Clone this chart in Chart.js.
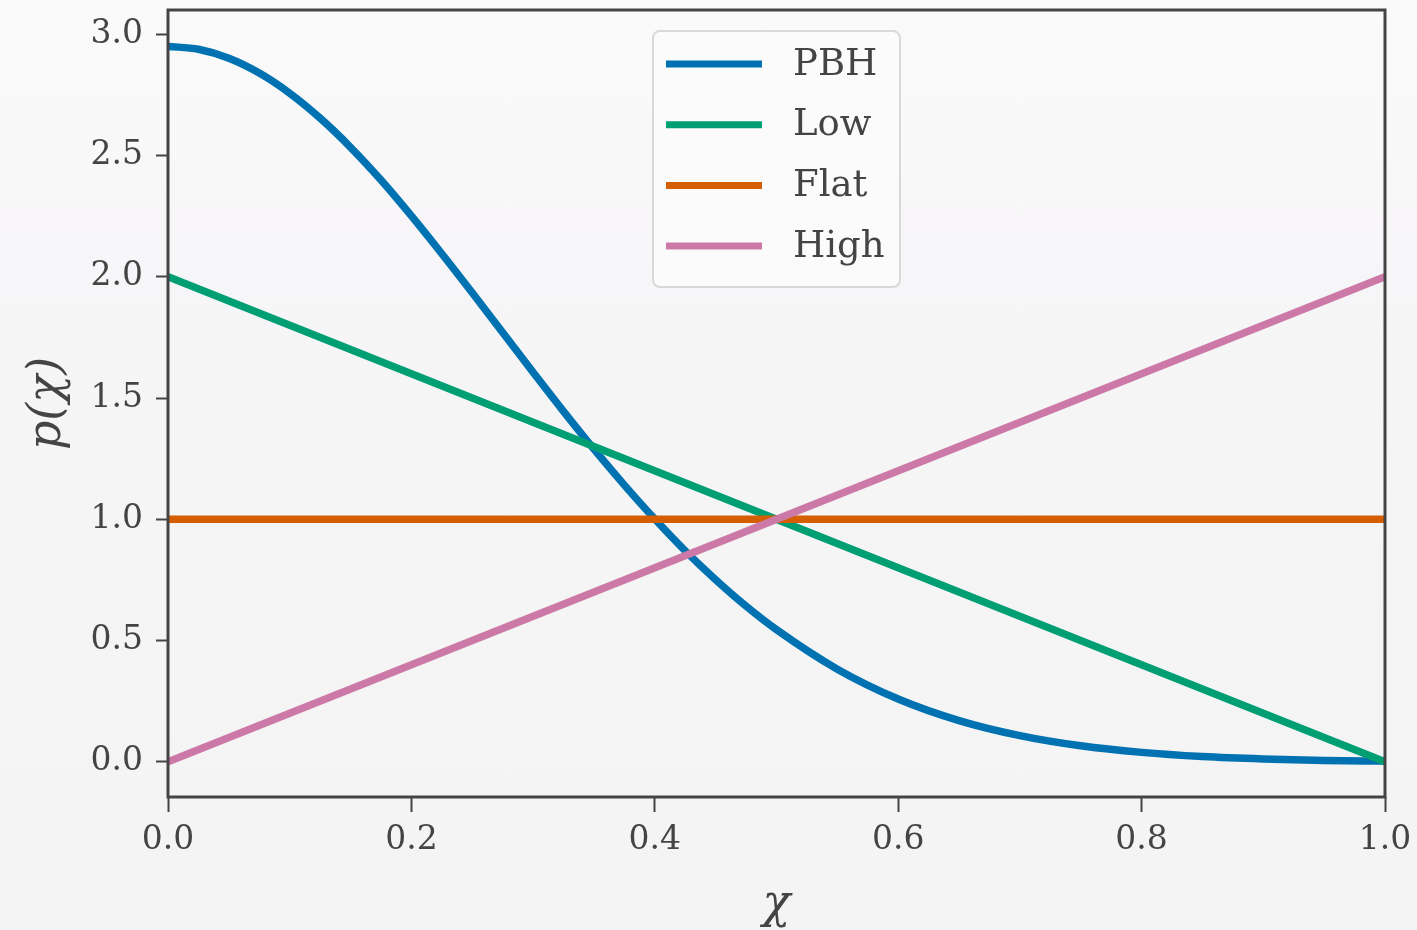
<!DOCTYPE html>
<html>
<head>
<meta charset="utf-8">
<script src="https://cdn.jsdelivr.net/npm/chart.js@4.4.1/dist/chart.umd.min.js"></script>
<style>
  html, body { margin: 0; padding: 0; }
  body {
    width: 1417px; height: 930px; overflow: hidden;
    background: linear-gradient(#fafafa 0%, #f9f8f9 18%, #f8f6f8 24%, #f6f6f8 30%, #f5f5f5 50%, #f4f4f4 100%);
  }
  #wrap { position: relative; width: 1417px; height: 930px; }
</style>
</head>
<body>
<div id="wrap"><canvas id="chart"></canvas></div>
<script>
// spin distributions p(chi)
const seriesNames = ["PBH", "Low", "Flat", "High"];
const seriesColors = ["#0072b2", "#009e73", "#d55e00", "#cc79a7"];

const pbhChi = [0, 0.025, 0.05, 0.075, 0.1, 0.125, 0.15, 0.175, 0.2, 0.225, 0.25,
                0.275, 0.3, 0.325, 0.35, 0.375, 0.4, 0.425, 0.45, 0.475, 0.5,
                0.55, 0.6, 0.65, 0.7, 0.75, 0.8, 0.85, 0.9, 0.95, 1.0];
const pbhValues = [2.950, 2.938, 2.901, 2.840, 2.757, 2.654, 2.534, 2.399, 2.251, 2.095, 1.934,
                   1.770, 1.606, 1.445, 1.289, 1.141, 1.001, 0.870, 0.751, 0.642, 0.545,
                   0.382, 0.259, 0.170, 0.108, 0.066, 0.039, 0.022, 0.012, 0.006, 0.003];

const lineChi = [0, 1];
const lowValues = [2, 0];
const flatValues = [1, 1];
const highValues = [0, 2];

const xTicks = [0, 0.2, 0.4, 0.6, 0.8, 1.0];
const yTicks = [0, 0.5, 1.0, 1.5, 2.0, 2.5, 3.0];
const xMin = 0, xMax = 1;
const yMin = -0.145, yMax = 3.1;

const axisColor = "#444444";
const serif = "'DejaVu Serif', 'Liberation Serif', serif";

function toPoints(xs, ys) {
  return xs.map((x, i) => ({ x: x, y: ys[i] }));
}

const frame = {
  id: "frame",
  afterDatasetsDraw(chart) {
    const { ctx, chartArea: a } = chart;
    ctx.save();
    ctx.strokeStyle = axisColor;
    ctx.lineWidth = 3;
    ctx.strokeRect(a.left, a.top, a.right - a.left, a.bottom - a.top);
    ctx.restore();
  },
};

const boxLegend = {
  id: "boxLegend",
  afterDraw(chart) {
    const { ctx, chartArea: a } = chart;
    const left = a.left + 485, top = a.top + 21, w = 247, h = 256;
    ctx.save();
    ctx.beginPath();
    ctx.roundRect(left, top, w, h, 7);
    ctx.fillStyle = "rgba(252,252,252,0.85)";
    ctx.fill();
    ctx.strokeStyle = "#d9d9d9";
    ctx.lineWidth = 2;
    ctx.stroke();
    ctx.font = "37px " + serif;
    ctx.textBaseline = "middle";
    chart.data.datasets.forEach((ds, i) => {
      const y = top + 33 + i * 60.7;
      ctx.strokeStyle = ds.borderColor;
      ctx.lineWidth = 7;
      ctx.beginPath();
      ctx.moveTo(left + 13, y);
      ctx.lineTo(left + 109, y);
      ctx.stroke();
      ctx.fillStyle = axisColor;
      ctx.fillText(ds.label, left + 140, y + 1);
    });
    ctx.restore();
  },
};

const lineData = [pbhValues, lowValues, flatValues, highValues];
const chiData = [pbhChi, lineChi, lineChi, lineChi];

const datasets = seriesNames.map((name, i) => ({
  label: name,
  data: toPoints(chiData[i], lineData[i]),
  borderColor: seriesColors[i],
  backgroundColor: seriesColors[i],
  borderWidth: 7.5,
  pointRadius: 0,
  fill: false,
  cubicInterpolationMode: "monotone",
  clip: 0,
  order: seriesNames.length - i,
}));

new Chart(document.getElementById("chart"), {
  type: "line",
  data: { datasets: datasets },
  options: {
    responsive: true,
    maintainAspectRatio: false,
    animation: false,
    layout: { padding: { left: 0, right: 32, top: 10, bottom: 0 } },
    plugins: {
      legend: { display: false },
      tooltip: { enabled: false },
    },
    scales: {
      x: {
        type: "linear",
        min: xMin,
        max: xMax,
        afterBuildTicks: (s) => { s.ticks = xTicks.map((v) => ({ value: v })); },
        afterFit: (s) => { s.height = 133; s.paddingLeft = 0; s.paddingRight = 0; },
        grid: { display: true, drawOnChartArea: false, tickLength: 15, tickWidth: 2, tickColor: axisColor },
        border: { display: false },
        ticks: {
          color: axisColor,
          padding: 9,
          maxRotation: 0,
          font: { family: serif, size: 33 },
          callback: (v) => Number(v).toFixed(1),
        },
        title: {
          display: true,
          text: "χ",
          color: axisColor,
          font: { family: serif, size: 46, style: "italic" },
          padding: { top: 0, bottom: -3 },
        },
      },
      y: {
        type: "linear",
        min: yMin,
        max: yMax,
        afterBuildTicks: (s) => { s.ticks = yTicks.map((v) => ({ value: v })); },
        afterFit: (s) => { s.width = 168; s.paddingTop = 0; s.paddingBottom = 0; },
        grid: { display: true, drawOnChartArea: false, tickLength: 12, tickWidth: 2, tickColor: axisColor },
        border: { display: false },
        ticks: {
          color: axisColor,
          padding: 13,
          font: { family: serif, size: 33 },
          callback: (v) => Number(v).toFixed(1),
        },
        title: {
          display: true,
          text: "p(χ)",
          color: axisColor,
          font: { family: serif, size: 46, style: "italic" },
          padding: { top: 20, bottom: 0 },
        },
      },
    },
  },
  plugins: [frame, boxLegend],
});
</script>
</body>
</html>
